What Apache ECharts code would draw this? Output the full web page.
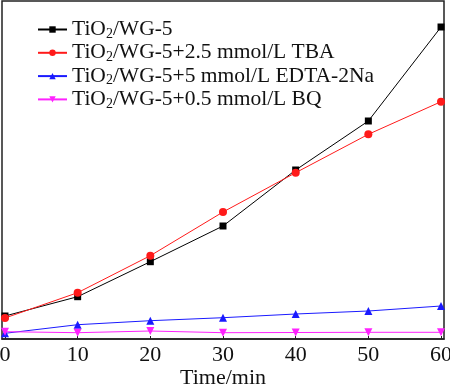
<!DOCTYPE html>
<html>
<head>
<meta charset="utf-8">
<script src="https://cdn.jsdelivr.net/npm/echarts@6/dist/echarts.min.js"></script>
<style>html,body{margin:0;padding:0;background:#fff}#c{width:450px;height:387px}</style>
</head>
<body>
<div id="c"></div>
<script>
// Data (y in arbitrary units)
var times = [0, 10, 20, 30, 40, 50, 60];
var tickLabels = [0, 10, 20, 30, 40, 50, 60];
var seriesNames = [
  'TiO2/WG-5',
  'TiO2/WG-5+2.5 mmol/L TBA',
  'TiO2/WG-5+5 mmol/L EDTA-2Na',
  'TiO2/WG-5+0.5 mmol/L BQ'
];
var wg5 = [23, 42.3, 77.3, 113, 169, 218, 312];
var tba = [21, 46.3, 83.3, 127, 166.3, 204.7, 237.3];
var edta = [5.7, 14.3, 18.3, 21.3, 25, 28, 33];
var bq = [7.3, 6.3, 8, 6.3, 6.5, 6.7, 6.7];

function pairs(ys) { return times.map(function (t, i) { return [t, ys[i]]; }); }

var font = 'Liberation Serif, Times New Roman, serif';
var chart = echarts.init(document.getElementById('c'), null, {renderer: 'canvas'});
var styles = [
  {data: wg5, color: '#000000', symbol: 'rect', size: 7, rot: 0},
  {data: tba, color: '#ff1a1a', symbol: 'circle', size: 8, rot: 0},
  {data: edta, color: '#1a1aff', symbol: 'triangle', size: 8, rot: 0},
  {data: bq, color: '#ff22ff', symbol: 'triangle', size: 8, rot: 180}
];
chart.setOption({
  animation: false,
  grid: {left: 2, right: 6, top: 1, bottom: 48, outerBoundsMode: 'none', containLabel: false, show: true, borderColor: '#222', borderWidth: 1.5, backgroundColor: 'transparent'},
  legend: {
    orient: 'vertical', left: 37, top: 18, padding: 0, itemWidth: 29, itemHeight: 8, itemGap: 0.3,
    data: seriesNames,
    formatter: function (n) { return '{a|TiO}{s|2}{a|' + n.slice(4) + '}'; },
    textStyle: {
      fontFamily: font, fontSize: 21.5, color: '#111', lineHeight: 22,
      rich: {
        a: {fontFamily: font, fontSize: 21.5, color: '#111', lineHeight: 22},
        s: {fontFamily: font, fontSize: 14, color: '#111', lineHeight: 13, padding: [9, 0, 0, 0]}
      }
    }
  },
  xAxis: {
    type: 'value', min: -0.41, max: 60.41,
    name: 'Time/min', nameLocation: 'middle', nameGap: 28, nameMoveOverlap: false,
    nameTextStyle: {fontFamily: font, fontSize: 22, color: '#111'},
    axisLine: {show: true, onZero: false, lineStyle: {color: '#222', width: 1.5}},
    axisTick: {show: true, inside: true, length: 3, customValues: tickLabels, lineStyle: {color: '#222'}},
    axisLabel: {customValues: tickLabels, fontFamily: font, fontSize: 22, color: '#111', margin: 5},
    splitLine: {show: false}
  },
  yAxis: {
    type: 'value', min: 0, max: 338,
    axisLine: {show: false}, axisTick: {show: false}, axisLabel: {show: false}, splitLine: {show: false}
  },
  series: styles.map(function (s, i) {
    return {
      name: seriesNames[i], type: 'line', data: pairs(s.data),
      symbol: s.symbol, symbolSize: s.size, symbolRotate: s.rot,
      itemStyle: {color: s.color}, lineStyle: {color: s.color, width: 1}
    };
  })
});
</script>
</body>
</html>
